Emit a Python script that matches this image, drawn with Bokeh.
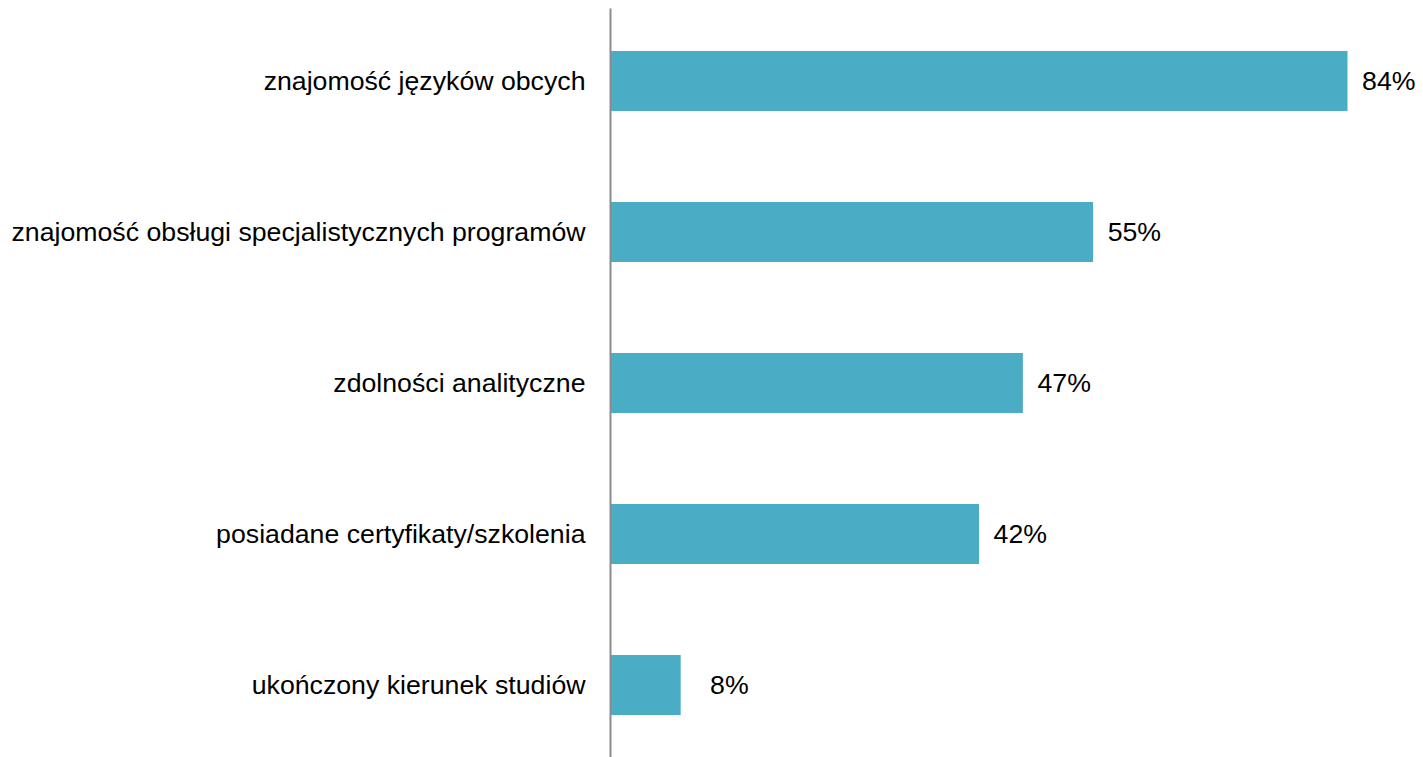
from bokeh.plotting import figure
from bokeh.models import FactorRange, Range1d, ColumnDataSource
from bokeh.core.properties import value
from bokeh.embed import file_html
from bokeh.resources import INLINE

categories = [
    "znajomość języków obcych",
    "znajomość obsługi specjalistycznych programów",
    "zdolności analityczne",
    "posiadane certyfikaty/szkolenia",
    "ukończony kierunek studiów",
]
values = [84, 55, 47, 42, 8]
labels = [f"{v}%" for v in values]

FONT = "Liberation Sans"

src = ColumnDataSource(dict(cat=categories, val=values, lab=labels))

p = figure(
    width=1415, height=757,
    y_range=FactorRange(factors=list(reversed(categories)), range_padding=-0.008),
    x_range=Range1d(0, 91.75),
    output_backend="svg", toolbar_location=None,
    min_border_left=610, min_border_right=0, min_border_top=8, min_border_bottom=0,
)

p.hbar(y="cat", right="val", left=0, height=0.397, source=src,
       fill_color="#4BACC6", line_color=None)

p.text(x="val", y="cat", text="lab", source=src, x_offset=68,
       text_align="right", text_baseline="middle",
       text_font=value(FONT), text_font_size="26.7px", text_color="#000000")

p.xaxis.visible = False
p.xgrid.visible = False
p.ygrid.visible = False
p.outline_line_color = None

ya = p.yaxis[0]
ya.axis_line_color = "#8c8c8c"
ya.axis_line_width = 2
ya.major_tick_line_color = None
ya.minor_tick_line_color = None
ya.major_tick_out = 0
ya.major_tick_in = 0
ya.major_label_standoff = 25
ya.major_label_text_font = FONT
ya.major_label_text_font_size = "26.7px"
ya.major_label_text_color = "#000000"

open("out.html", "w").write(file_html(p, INLINE))
